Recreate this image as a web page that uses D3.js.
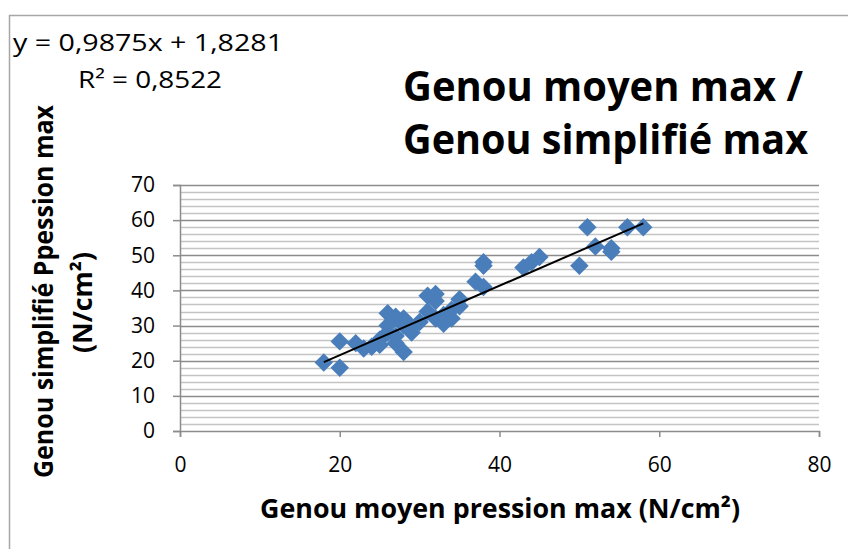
<!DOCTYPE html>
<html>
<head>
<meta charset="utf-8">
<script src="https://cdn.jsdelivr.net/npm/d3@7"></script>
<style>
  body { margin: 0; background: #fff; }
  svg { display: block; }
</style>
</head>
<body>
<div id="chart"></div>
<script>
// valeurs (x = genou moyen, y = genou simplifié)
var moyenX = [18, 20, 20, 22, 23, 24, 25, 25, 26, 26, 26, 27, 27, 27, 28, 28, 28, 29, 29, 30,
              31, 31, 32, 32, 32, 33, 33, 34, 34, 35, 35, 37, 38, 38, 38, 43, 44, 45, 50, 51,
              52, 54, 54, 56, 58];
var simplifieY = [19.5, 25.5, 18, 25, 23.5, 24, 24.5, 26, 33.5, 28, 30, 32.5, 27, 25, 32, 22.5, 30, 29.5, 28, 31,
                  38.5, 34, 39, 37, 32, 30.5, 33, 34.5, 32, 37.5, 35.5, 42.5, 48, 47, 41, 46.5, 48, 49.5, 47, 58,
                  52.5, 52, 51, 58, 58];
var xTicks = [0, 20, 40, 60, 80];
var yTicks = [0, 10, 20, 30, 40, 50, 60, 70];
var pente = 0.9875, origine = 1.8281;
var equation = "y = 0,9875x + 1,8281";
var r2Label = "R² = 0,8522";
var titre = ["Genou moyen max /", "Genou simplifié max"];
var xTitre = "Genou moyen pression max (N/cm²)";
var yTitre = ["Genou simplifié Ppession max", "(N/cm²)"];

var width = 848, height = 549;
var plot = {left: 180, right: 819, top: 185, bottom: 431};
var font = "'Open Sans', 'Noto Sans', sans-serif";

var svg = d3.select("#chart").append("svg")
  .attr("width", width)
  .attr("height", height);

// étire le texte à la largeur mesurée sur l'image
function ajuste(sel, w) {
  sel.attr("textLength", w).attr("lengthAdjust", "spacingAndGlyphs");
}

// cadre du graphique
svg.append("rect")
  .attr("x", 9.5).attr("y", 15.5)
  .attr("width", 860).attr("height", 560)
  .style("fill", "#fff")
  .style("stroke", "#a6a6a6")
  .style("stroke-width", 1.5);

var x = d3.scaleLinear().domain([0, 80]).range([plot.left, plot.right]);
var y = d3.scaleLinear().domain([0, 70]).range([plot.bottom, plot.top]);

// quadrillage secondaire (tous les 2) puis principal
var minor = d3.range(2, 70, 2).filter(function(v){ return v % 10 !== 0; });
svg.append("g").selectAll("line")
  .data(minor)
  .enter().append("line")
  .attr("x1", plot.left).attr("x2", plot.right)
  .attr("y1", function(d){ return Math.round(y(d)) + 0.5; })
  .attr("y2", function(d){ return Math.round(y(d)) + 0.5; })
  .style("stroke", "#c4c4c4")
  .style("stroke-width", 1.5);

svg.append("g").selectAll("line")
  .data(yTicks.slice(1))
  .enter().append("line")
  .attr("x1", plot.left).attr("x2", plot.right)
  .attr("y1", function(d){ return Math.round(y(d)) + 0.5; })
  .attr("y2", function(d){ return Math.round(y(d)) + 0.5; })
  .style("stroke", "#8c8c8c")
  .style("stroke-width", 1.5);

// axes
var xAxis = svg.append("g")
  .attr("transform", "translate(0," + plot.bottom + ")")
  .call(d3.axisBottom(x).tickValues(xTicks).tickSize(6).tickPadding(20));
var yAxis = svg.append("g")
  .attr("transform", "translate(" + plot.left + ",0)")
  .call(d3.axisLeft(y).tickValues(yTicks).tickSize(7).tickPadding(18));

[xAxis, yAxis].forEach(function(a){
  a.select(".domain").style("stroke", "#8c8c8c").style("stroke-width", 1.5);
  a.selectAll(".tick line").style("stroke", "#8c8c8c").style("stroke-width", 1.5);
  a.selectAll(".tick text")
    .style("font-family", font)
    .style("font-size", "21px")
    .style("fill", "#000");
});

// points (losanges)
var pts = moyenX.map(function(v, i){ return {x: v, y: simplifieY[i]}; });
svg.append("g").selectAll("path")
  .data(pts)
  .enter().append("path")
  .attr("d", d3.symbol().type(d3.symbolSquare).size(170))
  .attr("transform", function(d){
    return "translate(" + x(d.x) + "," + y(d.y) + ") rotate(45)";
  })
  .style("fill", "#4a7ebb");

// courbe de tendance
var xMin = d3.min(moyenX), xMax = d3.max(moyenX);
svg.append("line")
  .attr("x1", x(xMin)).attr("y1", y(pente * xMin + origine))
  .attr("x2", x(xMax)).attr("y2", y(pente * xMax + origine))
  .style("stroke", "#000")
  .style("stroke-width", 2);

// équation et R²
svg.append("text")
  .attr("x", 13).attr("y", 51)
  .style("font-family", font).style("font-size", "24px")
  .text(equation)
  .call(ajuste, 270);
svg.append("text")
  .attr("x", 78).attr("y", 88)
  .style("font-family", font).style("font-size", "24px")
  .text(r2Label)
  .call(ajuste, 144);

// titre
var largeursTitre = [400, 405];
svg.append("g").selectAll("text")
  .data(titre)
  .enter().append("text")
  .attr("x", 403)
  .attr("y", function(d, i){ return 101 + i * 53; })
  .style("font-family", font).style("font-weight", "bold").style("font-size", "41px")
  .text(function(d){ return d; })
  .each(function(d, i){ d3.select(this).call(ajuste, largeursTitre[i]); });

// titre axe x
svg.append("text")
  .attr("x", 260).attr("y", 518)
  .style("font-family", font).style("font-weight", "bold").style("font-size", "26px")
  .text(xTitre)
  .call(ajuste, 480);

// titre axe y
var yTitreLong = [373, 101];
svg.append("g").selectAll("text")
  .data(yTitre)
  .enter().append("text")
  .attr("transform", function(d, i){
    return "translate(" + (53 + i * 39) + "," + (478 - i * 125) + ") rotate(-90)";
  })
  .style("font-family", font).style("font-weight", "bold").style("font-size", "26px")
  .text(function(d){ return d; })
  .each(function(d, i){ d3.select(this).call(ajuste, yTitreLong[i]); });
</script>
</body>
</html>
